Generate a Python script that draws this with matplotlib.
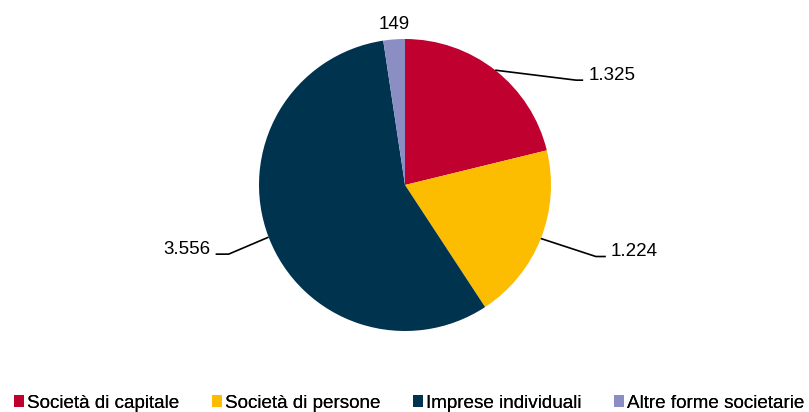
import numpy as np
import matplotlib
matplotlib.use("Agg")
import matplotlib.pyplot as plt
from matplotlib.patches import Patch

categories = ["Società di capitale", "Società di persone", "Imprese individuali", "Altre forme societarie"]
values = [1325, 1224, 3556, 149]
labels = ["1.325", "1.224", "3.556", "149"]
colors = ["#C0002E", "#FCBC00", "#00334E", "#8B8EC2"]

plt.rcParams['font.family'] = ['Liberation Sans', 'DejaVu Sans']
FS = 13.5
LFS = 13.6

W, H = 809, 412
fig = plt.figure(figsize=(W / 100, H / 100), dpi=100)
cx, cy, R = 405, 185, 146
ax = fig.add_axes([(cx - R) / W, 1 - (cy + R) / H, 2 * R / W, 2 * R / H])
wedges, _ = ax.pie(values, colors=colors, startangle=90, counterclock=False, radius=1,
                   wedgeprops=dict(linewidth=0))
ax.set_xlim(-1, 1)
ax.set_ylim(-1, 1)
ax.set_aspect('equal')

px = 1 / R
# leader offsets (pixels): elbow dx, dy(down), horizontal length
leader = {0: (81, 10, 7), 1: (55, 18, 10), 2: (-40, 17, 13)}
for i, w in enumerate(wedges):
    ang = np.deg2rad((w.theta1 + w.theta2) / 2)
    x0, y0 = np.cos(ang), np.sin(ang)
    if i in leader:
        dx, dy, hl = leader[i]
        ex, ey = x0 + dx * px, y0 - dy * px
        sgn = 1 if dx > 0 else -1
        fx = ex + sgn * hl * px
        ax.plot([x0, ex, fx], [y0, ey, ey], color='black', lw=1.2, clip_on=False,
                solid_capstyle='butt')
        ax.text(fx + sgn * 5 * px, ey + 5 * px, labels[i], fontsize=FS,
                ha='left' if sgn > 0 else 'right', va='center', clip_on=False)
    else:
        ax.text(x0, y0 + 15 * px, labels[i], fontsize=FS, ha='center', va='center',
                clip_on=False)

legend_x = [14, 212, 413, 614]
for c, name, lx in zip(colors, categories, legend_x):
    leg = fig.legend([Patch(facecolor=c, edgecolor='none')], [name], loc='lower left',
                     bbox_to_anchor=(lx / W, 0.5 / H), frameon=False, fontsize=LFS,
                     handlelength=0.55, handleheight=0.55, handletextpad=0.15,
                     borderpad=0.0, borderaxespad=0)
    fig.add_artist(leg)

fig.savefig("out.png", dpi=100)
